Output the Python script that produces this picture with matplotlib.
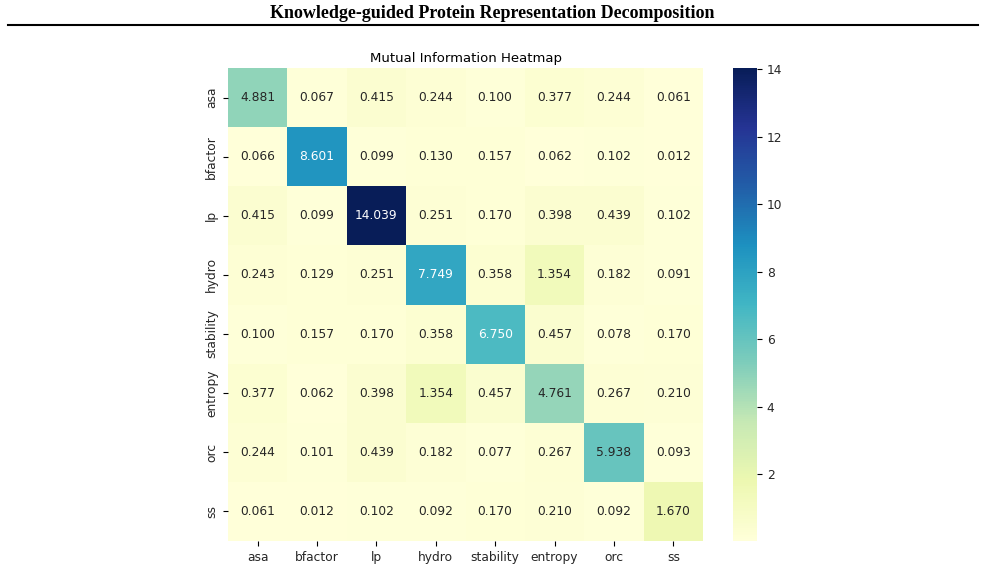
import numpy as np
import matplotlib
matplotlib.use("Agg")
import matplotlib.pyplot as plt
import seaborn as sns

labels = ["asa", "bfactor", "lp", "hydro", "stability", "entropy", "orc", "ss"]

row_asa = [4.881, 0.067, 0.415, 0.244, 0.100, 0.377, 0.244, 0.061]
row_bfactor = [0.066, 8.601, 0.099, 0.130, 0.157, 0.062, 0.102, 0.012]
row_lp = [0.415, 0.099, 14.039, 0.251, 0.170, 0.398, 0.439, 0.102]
row_hydro = [0.243, 0.129, 0.251, 7.749, 0.358, 1.354, 0.182, 0.091]
row_stability = [0.100, 0.157, 0.170, 0.358, 6.750, 0.457, 0.078, 0.170]
row_entropy = [0.377, 0.062, 0.398, 1.354, 0.457, 4.761, 0.267, 0.210]
row_orc = [0.244, 0.101, 0.439, 0.182, 0.077, 0.267, 5.938, 0.093]
row_ss = [0.061, 0.012, 0.102, 0.092, 0.170, 0.210, 0.092, 1.670]

mi = np.array([row_asa, row_bfactor, row_lp, row_hydro,
               row_stability, row_entropy, row_orc, row_ss])

W, H = 985, 567
fig = plt.figure(figsize=(W / 100, H / 100), dpi=100)
plt.rcParams["text.color"] = "#262626"

# page header with rule
fig.text(0.5, 1 - 14 / H, "Knowledge-guided Protein Representation Decomposition",
         ha="center", va="center", fontsize=13, fontweight="bold",
         family="Liberation Serif", color="black")
fig.add_artist(plt.Line2D([8 / W, 978 / W], [1 - 25 / H, 1 - 25 / H],
                          color="black", lw=1.5))

ax = fig.add_axes([228 / W, 1 - 541 / H, 475 / W, 473 / H])
cax = fig.add_axes([733 / W, 1 - 541 / H, 24 / W, 473 / H])

sns.heatmap(mi, ax=ax, cbar_ax=cax, cmap="YlGnBu", annot=True, fmt=".3f",
            annot_kws={"fontsize": 8.8},
            xticklabels=labels, yticklabels=labels)
ax.set_title("Mutual Information Heatmap", fontsize=9.5, pad=4, color="black")
ax.tick_params(labelsize=8.8, labelcolor="#262626")
plt.setp(ax.get_yticklabels(), rotation=90, va="center")
cax.tick_params(labelsize=8.8, labelcolor="#262626")
cax.set_yticks([2, 4, 6, 8, 10, 12, 14])

fig.savefig("out.png", dpi=100)
